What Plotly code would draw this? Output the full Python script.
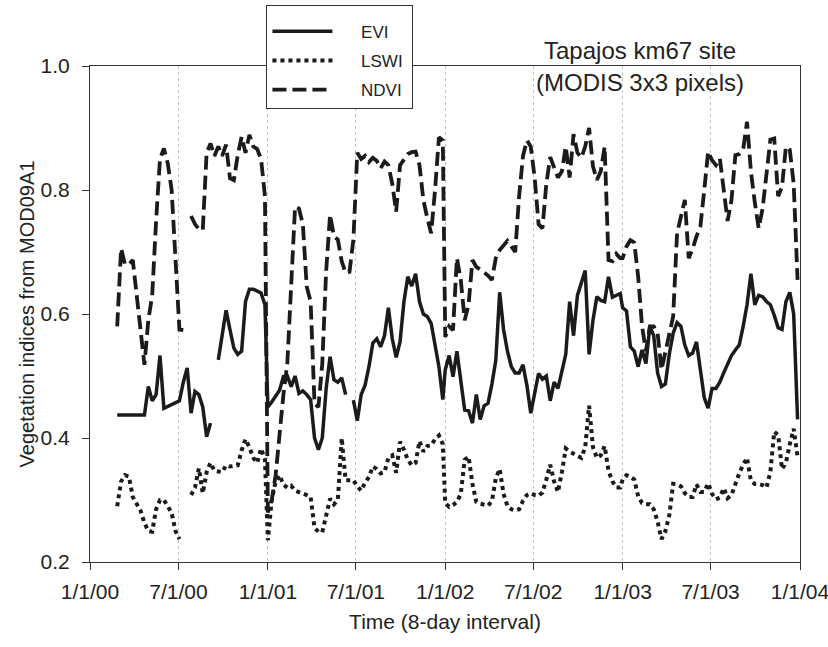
import datetime as dt
import plotly.graph_objects as go

# ---- data: MODIS 8-day composites (2000 starts at DOY 57) ----
years = [2000, 2001, 2002, 2003]
first_doy = {2000: 57}

evi = [
    # 2000
    0.437, 0.437, 0.437, 0.437, 0.437, 0.437, 0.437, 0.437, 0.483, 0.46,
    0.47, 0.533, 0.448, 0.451, 0.455, 0.458, 0.46, 0.49, 0.513, 0.44,
    0.475, 0.47, 0.45, 0.402, 0.424, None, 0.526, 0.57, 0.606, 0.575,
    0.545, 0.535, 0.54, 0.62, 0.64, 0.64, 0.637, 0.634, 0.615,
    # 2001
    0.45, 0.458, 0.468, 0.477, 0.499, 0.50, 0.483, 0.50, 0.472, 0.476,
    0.47, 0.462, 0.40, 0.381, 0.40, 0.48, 0.531, 0.494, 0.49, 0.497,
    0.47, None, 0.461, 0.428, 0.47, 0.485, 0.515, 0.553, 0.56, 0.547,
    0.565, 0.61, 0.56, 0.53, 0.555, 0.62, 0.66, 0.645, 0.665, 0.62,
    0.60, 0.596, 0.585, 0.55, 0.515, 0.462,
    # 2002
    0.51, 0.533, 0.499, 0.54, 0.49, 0.445, 0.444, 0.424, 0.47, 0.43,
    0.452, 0.456, 0.487, 0.525, 0.635, 0.575, 0.54, 0.515, 0.505, 0.505,
    0.518, 0.485, 0.44, 0.472, 0.504, 0.495, 0.50, 0.46, 0.49, 0.48,
    0.505, 0.535, 0.62, 0.565, 0.63, 0.65, 0.67, 0.535, 0.59, 0.628,
    0.622, 0.62, 0.66, 0.627, 0.63, 0.633,
    # 2003
    0.61, 0.605, 0.547, 0.54, 0.515, 0.542, 0.52, 0.58, 0.565, 0.505,
    0.483, 0.487, 0.535, 0.569, 0.586, 0.58, 0.55, 0.533, 0.537, 0.555,
    0.51, 0.465, 0.448, 0.48, 0.48, 0.49, 0.505, 0.518, 0.533, 0.542,
    0.55, 0.58, 0.615, 0.665, 0.615, 0.63, 0.628, 0.62, 0.615, 0.598,
    0.578, 0.575, 0.62, 0.635, 0.60, 0.43,
]

lswi = [
    # 2000
    0.29, 0.33, 0.34, 0.338, 0.305, 0.295, 0.283, 0.263, 0.25, 0.249,
    0.285, 0.30, 0.30, 0.29, 0.279, 0.25, 0.237, None, None, 0.308,
    0.32, 0.351, 0.311, 0.345, 0.36, 0.347, 0.346, 0.345, 0.356, 0.354,
    0.355, 0.356, 0.38, 0.398, 0.385, 0.368, 0.36, 0.383, 0.365,
    # 2001
    0.235, 0.30, 0.33, 0.34, 0.325, 0.32, 0.323, 0.315, 0.313, 0.311,
    0.308, 0.305, 0.255, 0.249, 0.248, 0.275, 0.302, 0.293, 0.30, 0.40,
    0.332, 0.332, 0.332, 0.322, 0.315, 0.328, 0.337, 0.354, 0.35, 0.343,
    0.345, 0.368, 0.372, 0.344, 0.394, 0.381, 0.365, 0.356, 0.36, 0.395,
    0.378, 0.387, 0.388, 0.398, 0.404, 0.39,
    # 2002
    0.295, 0.289, 0.292, 0.297, 0.31, 0.365, 0.37, 0.326, 0.297, 0.294,
    0.292, 0.291, 0.298, 0.335, 0.35, 0.31, 0.29, 0.285, 0.283, 0.285,
    0.299, 0.308, 0.311, 0.308, 0.307, 0.312, 0.333, 0.357, 0.33, 0.313,
    0.345, 0.383, 0.378, 0.375, 0.371, 0.368, 0.385, 0.452, 0.385, 0.368,
    0.372, 0.387, 0.347, 0.33, 0.32, 0.32,
    # 2003
    0.333, 0.34, 0.337, 0.333, 0.306, 0.295, 0.293, 0.293, 0.285, 0.265,
    0.237, 0.25, 0.275, 0.326, 0.325, 0.322, 0.311, 0.305, 0.305, 0.325,
    0.313, 0.313, 0.327, 0.31, 0.301, 0.304, 0.319, 0.303, 0.308, 0.328,
    0.343, 0.357, 0.368, 0.331, 0.326, 0.326, 0.324, 0.32, 0.345, 0.41,
    0.405, 0.35, 0.36, 0.39, 0.415, 0.37,
]

ndvi = [
    # 2000
    0.58, 0.706, 0.68, 0.68, 0.687, 0.63, 0.57, 0.518, 0.59, 0.63,
    0.75, 0.85, 0.867, 0.843, 0.80, 0.68, 0.575, 0.574, None, 0.758,
    0.745, 0.737, 0.735, 0.86, 0.875, 0.855, 0.87, 0.855, 0.873, 0.819,
    0.816, 0.856, 0.886, 0.86, 0.889, 0.87, 0.866, 0.85, 0.79,
    # 2001
    0.28, 0.30, 0.34, 0.41, 0.47, 0.52, 0.66, 0.773, 0.77, 0.745,
    0.644, 0.62, 0.455, 0.45, 0.52, 0.67, 0.76, 0.725, 0.72, 0.685,
    0.666, 0.668, 0.72, 0.86, 0.85, 0.855, 0.845, 0.852, 0.847, 0.835,
    0.846, 0.84, 0.81, 0.765, 0.84, 0.848, 0.858, 0.861, 0.862, 0.84,
    0.784, 0.755, 0.73, 0.80, 0.885, 0.88,
    # 2002
    0.563, 0.58, 0.574, 0.69, 0.655, 0.59, 0.615, 0.687, 0.676, 0.672,
    0.667, 0.662, 0.655, 0.69, 0.703, 0.71, 0.718, 0.709, 0.70, 0.79,
    0.855, 0.88, 0.87, 0.82, 0.745, 0.738, 0.81, 0.853, 0.835, 0.82,
    0.83, 0.87, 0.82, 0.89, 0.86, 0.852, 0.87, 0.90, 0.838, 0.816,
    0.83, 0.87, 0.687, 0.685, 0.697, 0.69,
    # 2003
    0.69, 0.709, 0.719, 0.715, 0.66, 0.58, 0.54, 0.58, 0.58, 0.569,
    0.51, 0.537, 0.565, 0.596, 0.73, 0.755, 0.784, 0.69, 0.705, 0.725,
    0.741, 0.80, 0.862, 0.848, 0.84, 0.851, 0.80, 0.75, 0.784, 0.856,
    0.858, 0.865, 0.91, 0.83, 0.78, 0.738, 0.77, 0.832, 0.881, 0.883,
    0.79, 0.805, 0.87, 0.865, 0.81, 0.655,
]

tick_dates = ["2000-01-01", "2000-07-01", "2001-01-01", "2001-07-01", "2002-01-01",
              "2002-07-01", "2003-01-01", "2003-07-01", "2004-01-01"]
tick_labels = ["1/1/00", "7/1/00", "1/1/01", "7/1/01", "1/1/02",
               "7/1/02", "1/1/03", "7/1/03", "1/1/04"]
y_ticks = [0.2, 0.4, 0.6, 0.8, 1.0]
y_labels = ["0.2", "0.4", "0.6", "0.8", "1.0"]
series_names = ["EVI", "LSWI", "NDVI"]

dates = [dt.date(y, 1, 1) + dt.timedelta(days=d - 1)
         for y in years for d in range(first_doy.get(y, 1), 366, 8)]

INK = "#1b1b1b"
FONT = "Arial, Liberation Sans, sans-serif"
PAD = "\u00a0" * 5
TAIL = "\u00a0"

styles = [dict(width=3.5, dash="solid"),
          dict(width=4, dash="4px,4px"),
          dict(width=3.8, dash="14px,6px")]

fig = go.Figure()
for name, vals, st, grp in zip(series_names, [evi, lswi, ndvi], styles, "abc"):
    fig.add_trace(go.Scatter(x=dates, y=vals, name=PAD + name + TAIL, mode="lines",
                             legendgroup=grp, line=dict(color=INK, **st)))

fig.update_layout(
    width=828, height=647,
    margin=dict(l=90, r=28, t=66, b=85, autoexpand=False),
    paper_bgcolor="white", plot_bgcolor="white",
    font=dict(family=FONT, color="#222", size=16),
    showlegend=True,
    legend=dict(x=0.2485, y=1.123, xanchor="left", yanchor="top",
                bgcolor="white", bordercolor="#333", borderwidth=1,
                font=dict(size=17, family=FONT), itemwidth=60,
                tracegroupgap=4,
                title=dict(text="\u00a0\u00a0", font=dict(size=6))),
    xaxis=dict(type="date", range=["2000-01-01", "2004-01-01"],
               tickvals=tick_dates, ticktext=tick_labels, automargin=False,
               ticklabeloverflow="allow",
               showline=True, linecolor="#333", linewidth=1, mirror=True,
               ticks="outside", ticklen=7, tickcolor="#333", ticklabelstandoff=4,
               showgrid=True, gridcolor="#c4c4c4", griddash="dot", gridwidth=1,
               zeroline=False, tickfont=dict(size=21),
               title=dict(text="Time (8-day interval)", font=dict(size=21), standoff=12)),
    yaxis=dict(range=[0.2, 1.0], tickvals=y_ticks, ticktext=y_labels, automargin=False,
               ticklabeloverflow="allow",
               showline=True, linecolor="#333", linewidth=1, mirror=True,
               ticks="outside", ticklen=7, tickcolor="#333", ticklabelstandoff=8,
               showgrid=False, zeroline=False, tickfont=dict(size=21),
               title=dict(text="Vegetation indices from MOD09A1", font=dict(size=20), standoff=0)),
    annotations=[
        dict(text="Tapajos km67 site", xref="paper", yref="paper", x=0.7745, y=1.032,
             xanchor="center", yanchor="middle", showarrow=False, font=dict(size=24)),
        dict(text="(MODIS 3x3 pixels)", xref="paper", yref="paper", x=0.7745, y=0.966,
             xanchor="center", yanchor="middle", showarrow=False, font=dict(size=24)),
    ],
)

fig.write_html("out.html", config={"displayModeBar": False},
               post_script="document.body.style.margin='0px';")
